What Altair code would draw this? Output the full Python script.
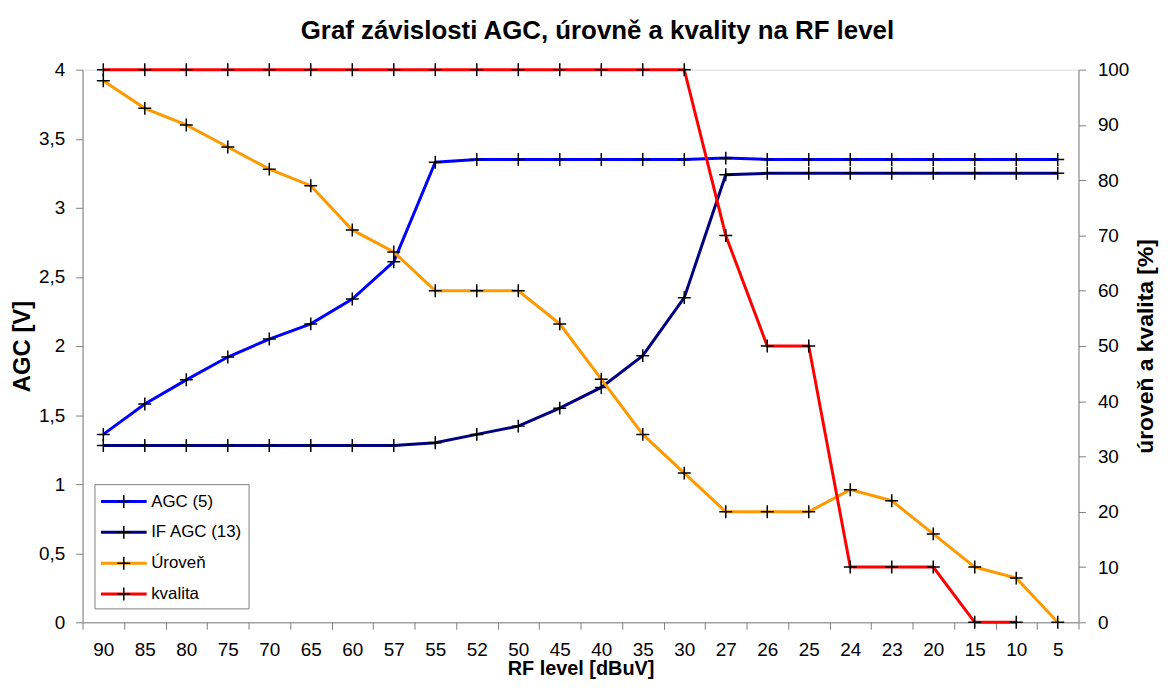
import altair as alt
import pandas as pd

# ---- data ----
rf_levels = ["90", "85", "80", "75", "70", "65", "60", "57", "55", "52", "50", "45",
             "40", "35", "30", "27", "26", "25", "24", "23", "20", "15", "10", "5"]
agc5 = [1.36, 1.58, 1.755, 1.92, 2.05, 2.16, 2.34, 2.61, 3.33, 3.35, 3.35, 3.35,
        3.35, 3.35, 3.35, 3.36, 3.35, 3.35, 3.35, 3.35, 3.35, 3.35, 3.35, 3.35]
if_agc13 = [1.28, 1.28, 1.28, 1.28, 1.28, 1.28, 1.28, 1.28, 1.30, 1.36, 1.42, 1.55,
            1.70, 1.93, 2.35, 3.24, 3.25, 3.25, 3.25, 3.25, 3.25, 3.25, 3.25, 3.25]
uroven = [98, 93, 90, 86, 82, 79, 71, 67, 60, 60, 60, 54,
          44, 34, 27, 20, 20, 20, 24, 22, 16, 10, 8, 0]
kvalita = [100, 100, 100, 100, 100, 100, 100, 100, 100, 100, 100, 100,
           100, 100, 100, 70, 50, 50, 10, 10, 10, 0, 0, None]

series_names = ["AGC (5)", "IF AGC (13)", "Úroveň", "kvalita"]
series_colors = ["#0000FF", "#000080", "#FF9900", "#FF0000"]
marker_ids = ["m1", "m2", "m3", "m4"]
left_ticks = [0, 0.5, 1, 1.5, 2, 2.5, 3, 3.5, 4]
right_ticks = [0, 10, 20, 30, 40, 50, 60, 70, 80, 90, 100]

FONT = "Liberation Sans"
GRAY = "#808080"
CROSS = "M-0.605,0H0.605M0,-0.605V0.605"
LINE_SYM = "M-2.3,0H2.3"
LEG_X, LEG_Y = 12, 417


def to_long(pairs):
    rows = []
    for name, vals in pairs:
        mid = marker_ids[series_names.index(name)]
        for rf, v in zip(rf_levels, vals):
            if v is None:
                continue
            rows.append({"rf": rf, "value": v, "series": name, "marker": mid})
    return pd.DataFrame(rows)


left_df = to_long([("AGC (5)", agc5), ("IF AGC (13)", if_agc13)])
right_df = to_long([("Úroveň", uroven), ("kvalita", kvalita)])

x_enc = alt.X(
    "rf:N", sort=rf_levels, bandPosition=0.5,
    scale=alt.Scale(type="band", paddingInner=0, paddingOuter=0),
    axis=alt.Axis(title="RF level [dBuV]", labelAngle=0, tickBand="extent",
                  labelFont=FONT, labelFontSize=19, labelColor="black",
                  titleFont=FONT, titleFontSize=20, titleFontWeight="bold", titleColor="black",
                  domainColor=GRAY, tickColor=GRAY, tickSize=7, labelPadding=11, titlePadding=0,
                  grid=False),
)

left_axis = alt.Axis(orient="left", values=left_ticks, title="AGC [V]",
                     labelExpr="replace(format(datum.value, '~g'), '.', ',')",
                     labelFont=FONT, labelFontSize=19, labelColor="black",
                     titleFont=FONT, titleFontSize=24, titleFontWeight="bold", titleColor="black",
                     domainColor=GRAY, tickColor=GRAY, tickSize=7, labelPadding=11, titlePadding=4,
                     grid=False)
right_axis = alt.Axis(orient="right", values=right_ticks, title="úroveň a kvalita [%]",
                      titleAngle=270,
                      labelFont=FONT, labelFontSize=19, labelColor="black",
                      titleFont=FONT, titleFontSize=23, titleFontWeight="bold", titleColor="black",
                      domainColor=GRAY, tickColor=GRAY, tickSize=7, labelPadding=12, titlePadding=29,
                      grid=False)

color_enc = alt.Color(
    "series:N",
    scale=alt.Scale(domain=series_names, range=series_colors),
    legend=alt.Legend(title=None, orient="none", legendX=LEG_X, legendY=LEG_Y,
                      symbolType=LINE_SYM, symbolSize=400, symbolStrokeWidth=3,
                      symbolOffset=12, labelOffset=16, labelFont=FONT, labelFontSize=17,
                      labelColor="black", padding=6, rowPadding=11,
                      fillColor="white", strokeColor=GRAY, zindex=1),
)
shape_enc = alt.Shape(
    "marker:N",
    scale=alt.Scale(domain=marker_ids, range=[CROSS, CROSS, CROSS, CROSS]),
    legend=alt.Legend(title=None, orient="none", legendX=LEG_X, legendY=LEG_Y,
                      symbolSize=462, symbolStrokeWidth=1.5, symbolStrokeColor="black",
                      symbolFillColor="transparent",
                      symbolOffset=12, labelOffset=16, labelFont=FONT, labelFontSize=17,
                      labelExpr="''", padding=6, rowPadding=9, zindex=2),
)

y_left = alt.Y("value:Q", scale=alt.Scale(domain=[0, 4], nice=False), axis=left_axis)
y_right = alt.Y("value:Q", scale=alt.Scale(domain=[0, 100], nice=False), axis=right_axis)

left_lines = alt.Chart(left_df).mark_line(strokeWidth=3).encode(x=x_enc, y=y_left, color=color_enc)
left_pts = alt.Chart(left_df).mark_point(size=462, filled=False, color="black", strokeWidth=1.5,
                                         opacity=1).encode(x=x_enc, y=y_left, shape=shape_enc)
right_lines = alt.Chart(right_df).mark_line(strokeWidth=3).encode(x=x_enc, y=y_right, color=color_enc)
right_pts = alt.Chart(right_df).mark_point(size=462, filled=False, color="black", strokeWidth=1.5,
                                           opacity=1).encode(x=x_enc, y=y_right, shape=shape_enc)

left = alt.layer(left_lines, left_pts)
right = alt.layer(right_lines, right_pts)

chart = (
    alt.layer(left, right)
    .resolve_scale(y="independent")
    .properties(
        width=1002, height=556,
        autosize=alt.AutoSizeParams(type="none"),
        padding={"left": 75, "top": 60, "right": 82, "bottom": 56},
        title=alt.TitleParams("Graf závislosti AGC, úrovně a kvality na RF level",
                              font=FONT, fontSize=26, fontWeight="bold", color="black",
                              anchor="middle", dx=17, offset=16),
    )
    .configure_view(stroke=GRAY, strokeWidth=1)
    .configure(background="white")
)

chart.save("out.html", embed_options={"renderer": "svg", "actions": False})
